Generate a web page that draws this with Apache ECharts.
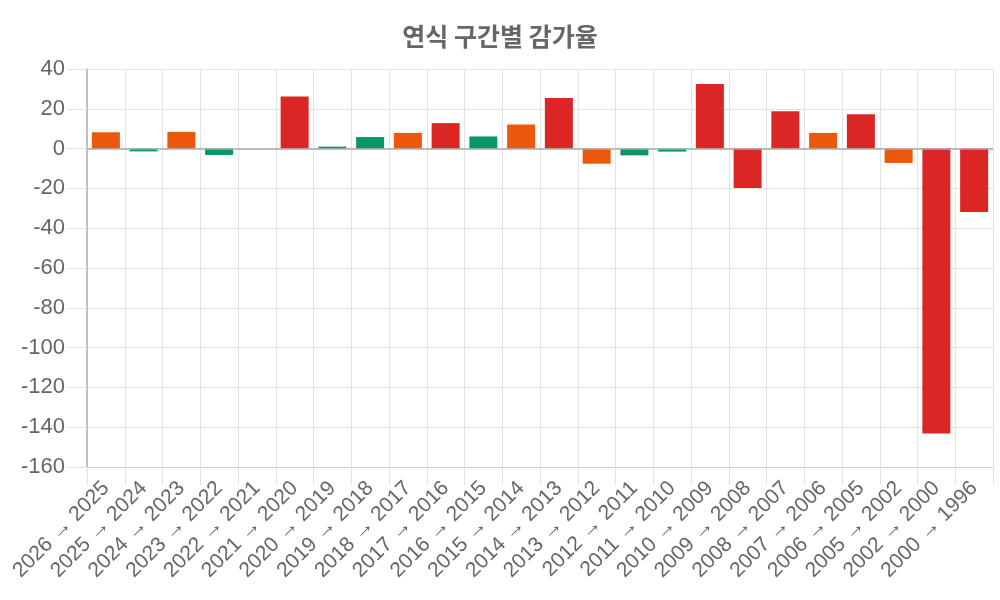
<!DOCTYPE html>
<html>
<head>
<meta charset="utf-8">
<script src="https://cdn.jsdelivr.net/npm/echarts@6/dist/echarts.min.js"></script>
<style>html,body{margin:0;padding:0;background:#fff;}#c{width:1000px;height:600px;}</style>
</head>
<body>
<div id="c"></div>
<script>
const titleText = '연식 구간별 감가율';
const categories = ['2026 → 2025','2025 → 2024','2024 → 2023','2023 → 2022','2022 → 2021','2021 → 2020','2020 → 2019','2019 → 2018','2018 → 2017','2017 → 2016','2016 → 2015','2015 → 2014','2014 → 2013','2013 → 2012','2012 → 2011','2011 → 2010','2010 → 2009','2009 → 2008','2008 → 2007','2007 → 2006','2006 → 2005','2005 → 2002','2002 → 2000','2000 → 1996'];
const values = [8.2, -1.4, 8.4, -3.2, 0, 26.2, 1.0, 5.8, 7.9, 12.8, 6.1, 12.1, 25.4, -7.6, -3.4, -1.5, 32.4, -19.8, 18.8, 7.9, 17.3, -7.2, -143.2, -31.9];
const yTicks = { min: -160, max: 40, interval: 20 };

const GREEN = '#059669', ORANGE = '#ea580c', RED = '#dc2626';
function colorFor(v) {
  const a = Math.abs(v);
  if (a >= 12.5) return RED;
  if (a >= 6.5) return ORANGE;
  return GREEN;
}

const chart = echarts.init(document.getElementById('c'), null, { renderer: 'canvas' });
chart.setOption({
  animation: false,
  backgroundColor: '#fff',
  title: {
    text: titleText,
    left: 'center',
    top: 24,
    padding: 0,
    textStyle: { fontFamily: '"Noto Sans CJK KR", sans-serif', fontSize: 25, fontWeight: 'bold', color: '#666' }
  },
  grid: { left: 87, right: 7, top: 69, bottom: 133, containLabel: false, outerBoundsMode: 'none' },
  xAxis: {
    type: 'category',
    data: categories,
    boundaryGap: true,
    axisLine: { onZero: false, lineStyle: { color: '#d0d0d0', width: 1 } },
    axisTick: { show: true, interval: 0, length: 18, lineStyle: { color: '#e3e3e3' } },
    splitLine: { show: true, interval: 0, lineStyle: { color: '#e3e3e3', width: 1 } },
    axisLabel: { interval: 0, rotate: 45, fontSize: 21, color: '#666', margin: 18, fontFamily: '"Liberation Sans", Arial, sans-serif' }
  },
  yAxis: {
    type: 'value',
    min: yTicks.min, max: yTicks.max, interval: yTicks.interval,
    axisLine: { show: true, lineStyle: { color: '#b0b0b0', width: 1.5 } },
    axisTick: { show: true, length: 20, lineStyle: { color: '#e3e3e3' } },
    splitLine: { show: true, lineStyle: { color: '#e3e3e3', width: 1 } },
    axisLabel: { fontSize: 22, color: '#666', margin: 22, fontFamily: '"Liberation Sans", Arial, sans-serif' }
  },
  series: [{
    type: 'bar',
    barWidth: 28,
    data: values.map(v => ({ value: v, itemStyle: { color: colorFor(v) } })),
    markLine: {
      silent: true,
      symbol: 'none',
      label: { show: false },
      lineStyle: { color: '#aaa', width: 1.5, type: 'solid' },
      data: [{ yAxis: 0 }]
    }
  }]
});
</script>
</body>
</html>
